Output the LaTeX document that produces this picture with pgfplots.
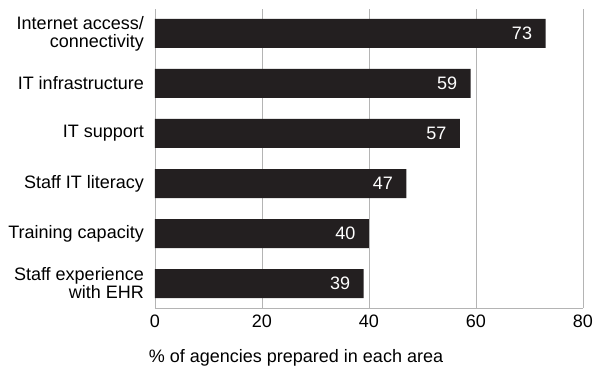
\documentclass[border=0pt]{standalone}
\usepackage{pgfplots}
\pgfplotsset{compat=1.18}
\usepackage{fontspec}
\setmainfont{Liberation Sans}
\definecolor{barblack}{HTML}{231F20}
\definecolor{gridgray}{HTML}{B4B4B4}
\begin{document}
\begin{tikzpicture}
\begin{axis}[
  scale only axis,
  width=428pt, height=299pt,
  xbar,
  bar width=29pt,
  xmin=0, xmax=80,
  ymin=-0.49, ymax=5.49,
  xtick={0,20,40,60,80},
  ytick={0,1,2,3,4,5},
  yticklabels={{Staff experience\\with EHR},{Training capacity},{Staff IT literacy},{IT support},{IT infrastructure},{Internet access/\\connectivity}},
  axis x line*=bottom,
  axis y line*=left,
  axis line style={gridgray, line width=0.8pt, -},
  xmajorgrids,
  major grid style={gridgray, line width=0.8pt},
  major tick length=0pt,
  tick style={draw=none},
  font=\fontsize{18}{18.5}\selectfont,
  /pgf/number format/assume math mode=true,
  xticklabel style={anchor=base, yshift=-19pt, inner sep=0pt},
  yticklabel style={anchor=east, align=right, inner sep=0pt, xshift=-11pt, font=\fontsize{18}{18}\selectfont},
  xlabel={\% of agencies prepared in each area},
  xlabel style={at={(rel axis cs:0.5,0)}, anchor=base, yshift=-54pt, xshift=-73pt},
  nodes near coords,
  every node near coord/.append style={anchor=east, text=white, xshift=-10pt, font=\fontsize{18}{18}\selectfont},
  clip=false,
]
\addplot[fill=barblack, draw=none] coordinates {
  (39,0) (40,1) (47,2) (57,3) (59,4) (73,5)
};
\coordinate (SW) at (rel axis cs:0,0);
\coordinate (NE) at (rel axis cs:1,1);
\end{axis}
\pgfresetboundingbox
\path[use as bounding box] ([xshift=-155pt,yshift=-64pt]SW) rectangle ([xshift=10pt,yshift=9pt]NE);
\end{tikzpicture}
\end{document}
